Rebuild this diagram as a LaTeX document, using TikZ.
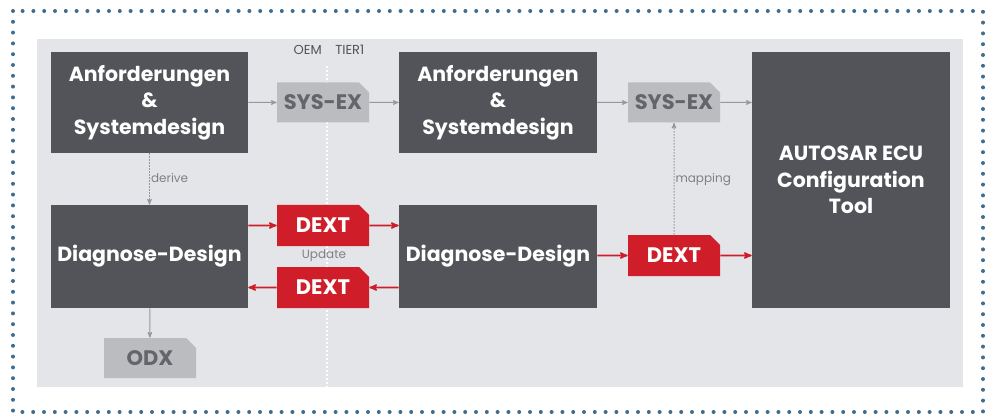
\documentclass[tikz,border=0pt]{standalone}
\usepackage{fontspec}
\setmainfont{Poppins}
\usepackage{tikz}
\usetikzlibrary{arrows,shapes.misc}
\definecolor{boxgray}{RGB}{82,84,89}
\definecolor{panel}{RGB}{227,229,232}
\definecolor{docgray}{RGB}{186,188,191}
\definecolor{dextred}{RGB}{207,30,42}
\definecolor{linegray}{RGB}{150,152,156}
\definecolor{dotblue}{RGB}{64,108,142}

\begin{document}
\begin{tikzpicture}[x=1pt,y=-1pt,->,>=stealth',semithick]
\tikzstyle{box}=[fill=boxgray,text=white,align=center,inner sep=0pt,
                 font=\fontsize{20.5}{26.5}\selectfont\bfseries]
\tikzstyle{doc}=[chamfered rectangle,chamfered rectangle corners=north east,
                 chamfered rectangle xsep=5pt,chamfered rectangle ysep=5pt,
                 inner sep=0pt,minimum width=92pt,minimum height=40pt,
                 font=\fontsize{21}{24}\selectfont\bfseries]
\tikzstyle{sysdoc}=[doc,fill=docgray,text=boxgray!90]
\tikzstyle{reddoc}=[doc,fill=dextred,text=white]
\tikzstyle{small}=[text=linegray!85!black,inner sep=1pt,
                   font=\fontsize{12}{14}\selectfont]
\tikzstyle{side}=[small,text=boxgray,font=\fontsize{13}{15}\selectfont]
\tikzstyle{flow}=[draw=linegray,line width=1pt]
\tikzstyle{redflow}=[draw=dextred,line width=1.6pt]
\tikzstyle{dep}=[draw=linegray,line width=1pt,dash pattern=on 1.5pt off 1.5pt]

\useasboundingbox (0,0) rectangle (998,414);
% frame and panel
\draw[-,dotblue,line width=4pt,line cap=round,dash pattern=on 0pt off 10.8pt]
  (13,11) rectangle (983,412);
\fill[panel] (37,39) rectangle (963,387);
\draw[-,white,line width=2.5pt,dash pattern=on 2pt off 2pt] (327,66) -- (327,387);

\node[side,anchor=east] (oem) at (323,50) {OEM};
\node[side,anchor=west] (tier) at (334,50) {TIER1};

\node[box,minimum width=197pt,minimum height=101pt] (req1) at (149.5,102.5)
  {Anforderungen\\\&\\Systemdesign};
\node[box,minimum width=198pt,minimum height=101pt] (req2) at (498,102.5)
  {Anforderungen\\\&\\Systemdesign};
\node[box,minimum width=197pt,minimum height=103pt] (diag1) at (149.5,256.5)
  {Diagnose-Design};
\node[box,minimum width=198pt,minimum height=103pt] (diag2) at (498,256.5)
  {Diagnose-Design};
\node[box,minimum width=198pt,minimum height=256pt] (ecu) at (851,180)
  {AUTOSAR ECU\\Configuration\\Tool};

\node[sysdoc] (sys1) at (323,102.5) {SYS-EX};
\node[sysdoc] (sys2) at (674,102.5) {SYS-EX};
\node[sysdoc] (odx) at (150,358) {ODX};
\node[reddoc,minimum height=41pt] (dext1) at (323,225.5) {DEXT};
\node[reddoc,minimum height=41pt] (dext2) at (323,287.5) {DEXT};
\node[reddoc,minimum height=41pt] (dext3) at (674,255.5) {DEXT};

\node[small] (upd) at (324,256) {Update};

\path (req1) edge[flow] (sys1)
      (sys1) edge[flow] (req2)
      (req2) edge[flow] (sys2)
      (sys2) edge[flow] (ecu.west |- sys2.east)
      (req1.south -| diag1.north) edge[dep] node[small,right,pos=0.48]{derive} (diag1)
      (diag1) edge[flow] (odx)
      (dext3) edge[dep] node[small,right,pos=0.49]{mapping} (sys2);
\path (diag1.east |- dext1.west) edge[redflow] (dext1)
      (dext1) edge[redflow] (diag2.west |- dext1.east)
      (diag2.west |- dext2.east) edge[redflow] (dext2)
      (dext2) edge[redflow] (diag1.east |- dext2.west)
      (diag2.east |- dext3.west) edge[redflow] (dext3)
      (dext3) edge[redflow] (ecu.west |- dext3.east);
\end{tikzpicture}
\end{document}
